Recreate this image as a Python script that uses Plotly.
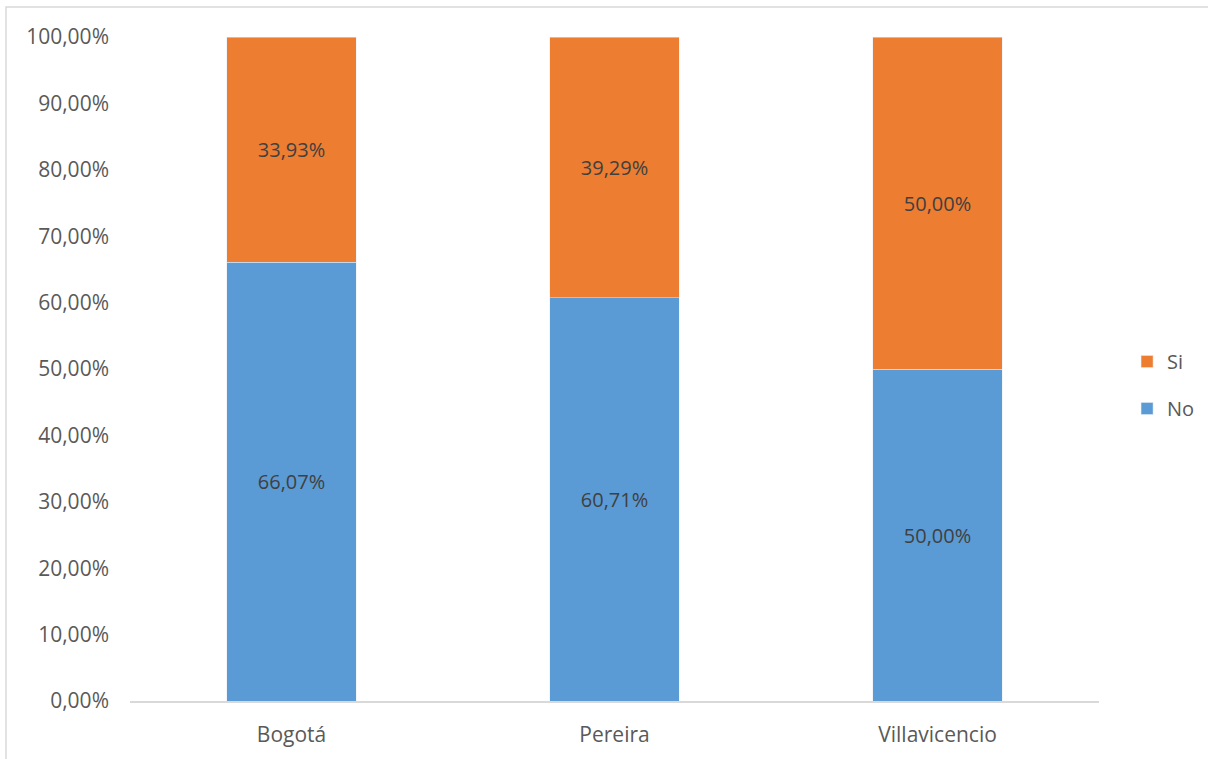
import plotly.graph_objects as go

ciudades = ["Bogotá", "Pereira", "Villavicencio"]
no_vals = [66.07, 60.71, 50.00]
si_vals = [33.93, 39.29, 50.00]
y_ticks = [0, 10, 20, 30, 40, 50, 60, 70, 80, 90, 100]
y_tick_text = ["0,00%", "10,00%", "20,00%", "30,00%", "40,00%", "50,00%",
               "60,00%", "70,00%", "80,00%", "90,00%", "100,00%"]

AZUL = "#5B9BD5"
NARANJA = "#ED7D31"
FONT = "Open Sans, Liberation Sans, sans-serif"


def fmt(v):
    return f"{v:.2f}".replace(".", ",") + "%"


W, H = 1208, 759
L, R, T, B = 130, 109, 37, 58

fig = go.Figure()
fig.add_trace(go.Bar(
    name="No", x=ciudades, y=no_vals, marker_color=AZUL, width=0.4,
    text=[fmt(v) for v in no_vals], textposition="inside", insidetextanchor="middle",
    textfont=dict(color="#404040", size=20, family=FONT),
    legendgroup="no", legendrank=2,
))
fig.add_trace(go.Bar(
    name="Si", x=ciudades, y=si_vals, marker_color=NARANJA, width=0.4,
    text=[fmt(v) for v in si_vals], textposition="inside", insidetextanchor="middle",
    textfont=dict(color="#404040", size=20, family=FONT),
    legendgroup="si", legendrank=1,
))

# outer chart frame (top and left edges visible, the rest runs off the page)
pw = W - L - R
ph = H - T - B
fig.add_shape(
    type="rect", xref="paper", yref="paper",
    x0=(6 - L) / pw, x1=(W + 40 - L) / pw,
    y0=-(H + 40 - T - ph) / ph, y1=(H - 7 - B) / ph,
    line=dict(color="#D9D9D9", width=1.5), fillcolor="rgba(0,0,0,0)", layer="below",
)

fig.update_layout(
    width=W, height=H, barmode="stack",
    margin=dict(l=L, r=R, t=T, b=B, autoexpand=False),
    paper_bgcolor="white", plot_bgcolor="white",
    font=dict(family=FONT, size=21, color="#595959"),
    uniformtext=dict(mode="show", minsize=20),
    showlegend=True,
    legend=dict(
        xref="container", yref="container",
        x=0.933, y=(H - 385) / H, xanchor="left", yanchor="middle",
        traceorder="grouped", tracegroupgap=18,
        font=dict(size=20, color="#595959"),
        itemwidth=30,
    ),
    xaxis=dict(
        showline=True, linecolor="#D9D9D9", linewidth=1.5,
        showgrid=False, ticks="", ticklabelstandoff=14,
        range=[-0.5, 2.5],
    ),
    yaxis=dict(
        range=[0, 100], tickvals=y_ticks, ticktext=y_tick_text,
        showgrid=False, zeroline=False, showline=False, ticks="",
        ticklabelstandoff=20,
    ),
)

fig.write_html("out.html")
